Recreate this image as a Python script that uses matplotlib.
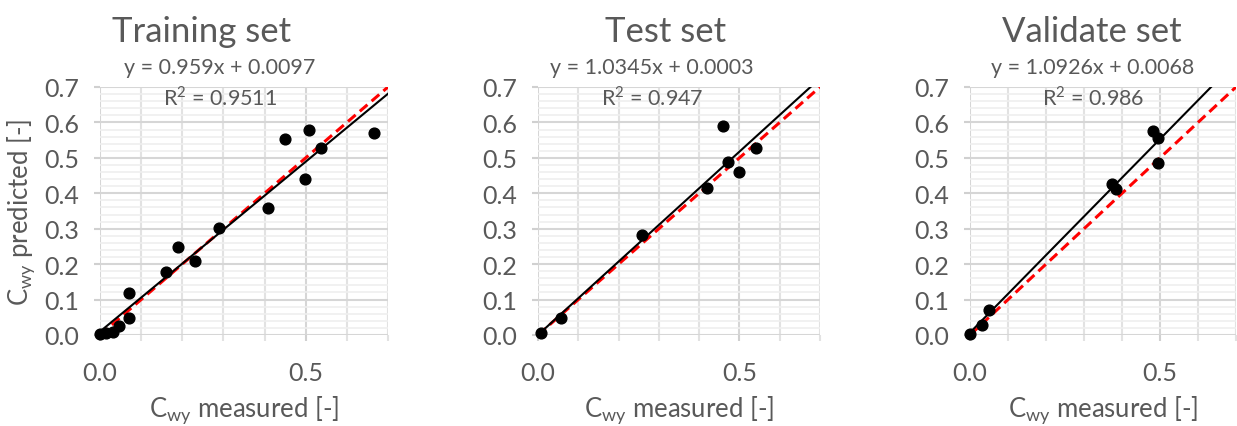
import numpy as np
import matplotlib
matplotlib.use("Agg")
import matplotlib.pyplot as plt
from matplotlib.ticker import MultipleLocator

plt.rcParams['font.family'] = ['Lato', 'DejaVu Sans']

# measured vs predicted C_wy for each data split
train_measured = [0.000, 0.015, 0.032, 0.045, 0.071, 0.071, 0.161, 0.190, 0.231,
                  0.290, 0.409, 0.449, 0.499, 0.508, 0.537, 0.666]
train_predicted = [0.002, 0.006, 0.009, 0.024, 0.049, 0.118, 0.177, 0.247, 0.210,
                   0.302, 0.358, 0.553, 0.440, 0.579, 0.528, 0.570]

test_measured = [0.007, 0.058, 0.259, 0.419, 0.460, 0.471, 0.498, 0.541]
test_predicted = [0.006, 0.048, 0.282, 0.414, 0.589, 0.489, 0.461, 0.527]

valid_measured = [0.000, 0.031, 0.051, 0.373, 0.383, 0.482, 0.496, 0.496]
valid_predicted = [0.003, 0.029, 0.071, 0.426, 0.412, 0.576, 0.555, 0.485]

titles = ['Training set', 'Test set', 'Validate set']
slopes = [0.959, 1.0345, 1.0926]
intercepts = [0.0097, 0.0003, 0.0068]
slope_labels = ['0.959', '1.0345', '1.0926']
intercept_labels = ['0.0097', '0.0003', '0.0068']
r2_labels = ['0.9511', '0.947', '0.986']

W, H = 1237, 427
fig = plt.figure(figsize=(W / 100, H / 100), dpi=100)

# axes boxes in pixels: left, right
boxes = [(100, 388), (538, 820), (970, 1236)]
top, bottom = 88, 336
title_x = [202, 666, 1092]
eq_x = [220, 652, 1093]

grey = '#595959'
datasets = [(train_measured, train_predicted),
            (test_measured, test_predicted),
            (valid_measured, valid_predicted)]

for i, ((xm, yp), (l, r)) in enumerate(zip(datasets, boxes)):
    ax = fig.add_axes([l / W, 1 - bottom / H, (r - l) / W, (bottom - top) / H])
    ax.set_xlim(0, 0.7)
    ax.set_ylim(0, 0.7)
    ax.xaxis.set_major_locator(MultipleLocator(0.5))
    ax.xaxis.set_minor_locator(MultipleLocator(0.1))
    ax.yaxis.set_major_locator(MultipleLocator(0.1))
    ax.yaxis.set_minor_locator(MultipleLocator(0.02))
    ax.xaxis.set_major_formatter(plt.FormatStrFormatter('%.1f'))
    ax.yaxis.set_major_formatter(plt.FormatStrFormatter('%.1f'))

    ax.grid(which='minor', axis='y', color='#efefef', linewidth=1.2)
    ax.grid(which='minor', axis='x', color='#e2e2e2', linewidth=1.5)
    ax.grid(which='major', color='#d6d6d6', linewidth=1.5)
    ax.set_axisbelow(True)
    for s in ax.spines.values():
        s.set_visible(False)

    ax.tick_params(axis='both', which='major', labelsize=18, colors='#d0d0d0',
                   labelcolor=grey, length=4, width=1.5)
    ax.tick_params(axis='x', which='major', pad=15)
    ax.tick_params(axis='y', which='major', pad=11)
    ax.tick_params(axis='x', which='minor', length=4, width=1.5, colors='#e2e2e2')
    ax.tick_params(axis='y', which='minor', length=0)

    xs = np.array([0.0, 0.7])
    ax.plot(xs, xs, color='#ff0000', linewidth=2.2, linestyle=(0, (3.3, 1.8)), zorder=2)
    ax.plot(xs, slopes[i] * xs + intercepts[i], color='black', linewidth=1.5, zorder=3)
    ax.scatter(xm, yp, s=60, color='black', zorder=4, clip_on=False)

    ax.set_xlabel('C$_{\\mathregular{wy}}$ measured [-]', fontsize=18.5, color=grey, labelpad=6)
    if i == 0:
        ax.set_ylabel('C$_{\\mathregular{wy}}$ predicted [-]', fontsize=18.5, color=grey, labelpad=5)

    fig.text(title_x[i] / W, 1 - 32 / H, titles[i], fontsize=25, color=grey,
             ha='center', va='center')
    fig.text(eq_x[i] / W, 1 - 68 / H,
             f'y = {slope_labels[i]}x + {intercept_labels[i]}',
             fontsize=15.5, color=grey, ha='center', va='center')
    fig.text(eq_x[i] / W, 1 - 98 / H, f'R$^{{\\mathregular{{2}}}}$ = {r2_labels[i]}',
             fontsize=15.5, color=grey, ha='center', va='center')

fig.savefig('out.png', dpi=100)
